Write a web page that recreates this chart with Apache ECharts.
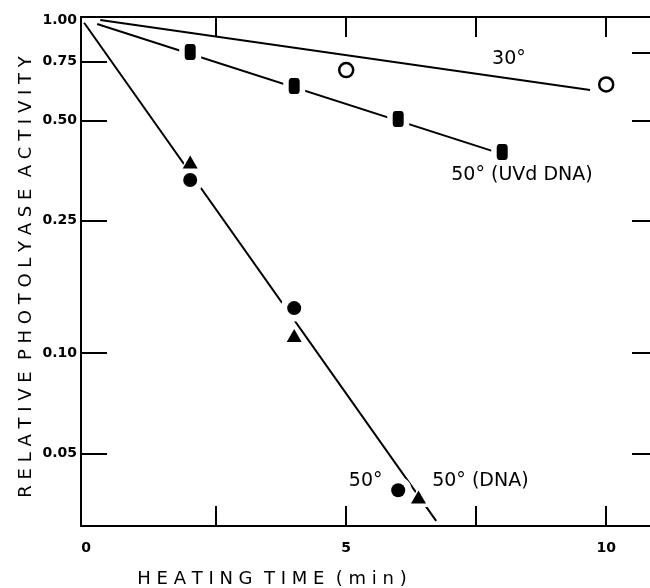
<!DOCTYPE html>
<html>
<head>
<meta charset="utf-8">
<script src="https://cdn.jsdelivr.net/npm/echarts@6/dist/echarts.min.js"></script>
<style>
  html, body { margin: 0; padding: 0; background: #fff; }
  #chart { width: 650px; height: 588px; }
</style>
</head>
<body>
<div id="chart"></div>
<script>
// ---- data ----
// 30 deg (open circles) and its fitted line
const pts30 = [[5, 0.708], [10, 0.641]];
const fit30 = [[0.27, 1.0], [9.69, 0.617]];
// 50 deg, UV-irradiated DNA (filled squares) and its fitted line
const ptsUVd = [[2, 0.802], [4, 0.634], [6, 0.505], [8, 0.402]];
const fitUVd = [[0.21, 0.973], [8, 0.396]];
// 50 deg (filled circles)
const pts50 = [[2, 0.331], [4, 0.1366], [6, 0.0388]];
// 50 deg with DNA (filled triangles)
const pts50DNA = [[2, 0.375], [4, 0.113], [6.39, 0.037]];
// common fitted line for the 50 deg data
const fit50 = [[-0.04, 0.982], [6.73, 0.0314]];
// axis ticks / labels
const xTicks = [2.5, 5, 7.5, 10];
const xLabels = [0, 5, 10];
const yLabels = [0.05, 0.1, 0.25, 0.5, 0.75, 1.0];
const yTicksLeft = [0.05, 0.1, 0.25, 0.5, 0.75];
const yTicksRight = [0.05, 0.1, 0.25, 0.5, 0.8];
// annotations [x, y, text]
const notes = [
  [8.13, 0.764, '30°'],
  [8.38, 0.3415, '50° (UVd DNA)'],
  [5.375, 0.0413, '50°'],
  [7.58, 0.0413, '50° (DNA)']
];

const FONT = '"DejaVu Sans", "Liberation Sans", Arial, sans-serif';
const chart = echarts.init(document.getElementById('chart'), null, { renderer: 'canvas' });

const axisLine = { show: true, onZero: false, lineStyle: { color: '#000', width: 2 } };
const tickStyle = { color: '#000', width: 2 };
const lineStyle = { color: '#000', width: 2 };
const solid = function (c) { return { color: c, opacity: 1 }; };

const option = {
  animation: false,
  backgroundColor: '#fff',
  grid: { left: 81, right: -3, top: 17, bottom: 62, containLabel: false, outerBoundsMode: 'none' },
  xAxis: [
    {
      type: 'value', position: 'bottom', min: -0.1, max: 10.9,
      axisLine: axisLine,
      splitLine: { show: false },
      axisTick: { show: true, inside: true, length: 20, lineStyle: tickStyle, customValues: xTicks },
      axisLabel: { show: true, customValues: xLabels, margin: 15, color: '#000', fontSize: 14, fontWeight: 'bold', fontFamily: FONT },
      name: 'H E A T I N G  T I M E  ( m i n )',
      nameLocation: 'middle', nameGap: 44,
      nameTextStyle: { color: '#000', fontSize: 18, fontFamily: FONT, padding: [0, 190, 0, 0] }
    },
    {
      type: 'value', position: 'top', min: -0.1, max: 10.9,
      axisLine: axisLine,
      splitLine: { show: false },
      axisTick: { show: true, inside: true, length: 20, lineStyle: tickStyle, customValues: xTicks },
      axisLabel: { show: false }
    }
  ],
  yAxis: [
    {
      type: 'log', logBase: 10, position: 'left', min: 0.0303, max: 1.0217,
      axisLine: axisLine,
      splitLine: { show: false },
      minorTick: { show: false },
      axisTick: { show: true, inside: true, length: 26, lineStyle: tickStyle, customValues: yTicksLeft },
      axisLabel: {
        show: true, customValues: yLabels, margin: 4, color: '#000', fontSize: 14, fontWeight: 'bold', fontFamily: FONT,
        formatter: function (v) { return Number(v).toFixed(2); }
      },
      name: 'R E L A T I V E  P H O T O L Y A S E  A C T I V I T Y',
      nameLocation: 'middle', nameGap: 46, nameMoveOverlap: false,
      nameTextStyle: { color: '#000', fontSize: 18, fontFamily: FONT, padding: [0, 11, 0, 0] }
    },
    {
      type: 'log', logBase: 10, position: 'right', min: 0.0303, max: 1.0217,
      axisLine: axisLine,
      splitLine: { show: false },
      axisTick: { show: true, inside: true, length: 21, lineStyle: tickStyle, customValues: yTicksRight },
      axisLabel: { show: false }
    }
  ],
  series: [
    { type: 'line', data: fit30, symbol: 'none', lineStyle: lineStyle, z: 2 },
    { type: 'line', data: fitUVd, symbol: 'none', lineStyle: lineStyle, z: 2 },
    { type: 'line', data: fit50, symbol: 'none', lineStyle: lineStyle, z: 2 },
    // white halos that break the lines around the markers
    { type: 'scatter', data: ptsUVd, symbol: 'roundRect', symbolSize: [22, 28], itemStyle: solid('#fff'), z: 3, silent: true },
    { type: 'scatter', data: pts50, symbol: 'circle', symbolSize: 27, itemStyle: solid('#fff'), z: 3, silent: true },
    { type: 'scatter', data: pts50DNA, symbol: 'triangle', symbolSize: [22, 20], itemStyle: solid('#fff'), z: 3, silent: true },
    // markers
    { type: 'scatter', data: pts30, symbol: 'circle', symbolSize: 14,
      itemStyle: { color: '#fff', opacity: 1, borderColor: '#000', borderWidth: 2.5 }, z: 4 },
    { type: 'scatter', data: ptsUVd, symbol: 'roundRect', symbolSize: [11, 16], itemStyle: solid('#000'), z: 4 },
    { type: 'scatter', data: pts50, symbol: 'circle', symbolSize: 14, itemStyle: solid('#000'), z: 4 },
    { type: 'scatter', data: pts50DNA, symbol: 'triangle', symbolSize: [15, 13], itemStyle: solid('#000'), z: 4 },
    // annotations
    { type: 'scatter', data: notes, symbolSize: 0, z: 5, silent: true, itemStyle: { opacity: 1 },
      label: { show: true, position: 'inside', align: 'center', verticalAlign: 'middle',
        formatter: function (p) { return p.data[2]; },
        color: '#000', fontSize: 19, fontFamily: FONT } }
  ]
};
chart.setOption(option);
</script>
</body>
</html>
